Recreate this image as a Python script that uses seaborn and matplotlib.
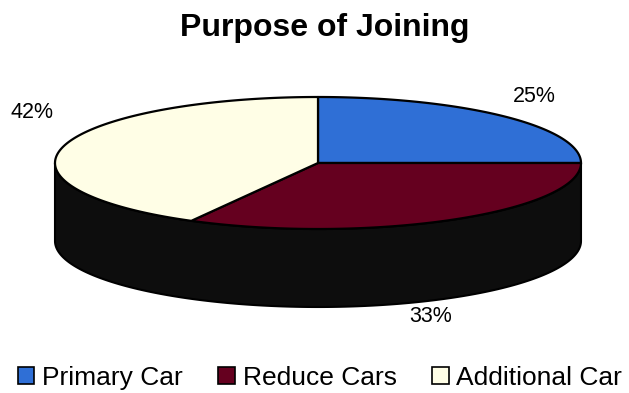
import numpy as np
import matplotlib
matplotlib.use("Agg")
import matplotlib.pyplot as plt
from matplotlib.patches import Patch
import seaborn as sns

# ---- data ----
categories = ["Primary Car", "Reduce Cars", "Additional Car"]
shares = [25, 33, 42]
pct_labels = ["25%", "33%", "42%"]
colors = ["#2f6fd6", "#65001f", "#fffee6"]

sns.set_theme(style="white")
plt.rcParams["font.family"] = ["Liberation Sans", "DejaVu Sans"]
plt.rcParams["text.color"] = "black"

W, H = 629, 393
fig = plt.figure(figsize=(W / 100, H / 100), dpi=100)
ax = fig.add_axes([0, 0, 1, 1])
ax.set_xlim(0, W)
ax.set_ylim(H, 0)
ax.axis("off")

# geometry of the 3-D pie (pixel space)
cx, cy, a, b, depth = 318, 163, 263, 66, 78
side_color = "#0d0d0d"

def ell(theta_deg, dy=0.0):
    t = np.radians(theta_deg)
    return cx + a * np.cos(t), cy - b * np.sin(t) + dy

# side wall (front half)
th = np.linspace(180, 360, 200)
x1, y1 = ell(th)
x2, y2 = ell(th[::-1], depth)
ax.fill(np.r_[x1, x2], np.r_[y1, y2], color=side_color, lw=1.5,
        edgecolor="black", zorder=1)

# top slices: start at 12 o'clock, go clockwise
total = float(sum(shares))
start = 90.0
for val, col in zip(shares, colors):
    span = 360.0 * val / total
    t = np.linspace(start, start - span, 200)
    xs, ys = ell(t)
    ax.fill(np.r_[cx, xs, cx], np.r_[cy, ys, cy], facecolor=col,
            edgecolor="black", lw=1.6, zorder=2, joinstyle="round")
    start -= span

# percentage labels
label_pos = [(534, 97), (431, 316), (32, 113)]
for txt, (lx, ly) in zip(pct_labels, label_pos):
    ax.text(lx, ly, txt, ha="center", va="center", fontsize=15.5,
            color="black", zorder=3)

# title
ax.text(W / 2 + 10, 28, "Purpose of Joining", ha="center", va="center",
        fontsize=23, fontweight="bold", color="black")

# legend
handles = [Patch(facecolor=c, edgecolor="black", lw=1.2) for c in colors]
ax.legend(handles, categories, loc="center", bbox_to_anchor=(320 / W, 1 - 378 / H),
          ncol=3, frameon=False, fontsize=19, handlelength=0.62,
          handleheight=0.62, handletextpad=0.3, columnspacing=1.35,
          borderaxespad=0, borderpad=0, labelcolor="black")

fig.savefig("out.png", dpi=100, facecolor="white")
